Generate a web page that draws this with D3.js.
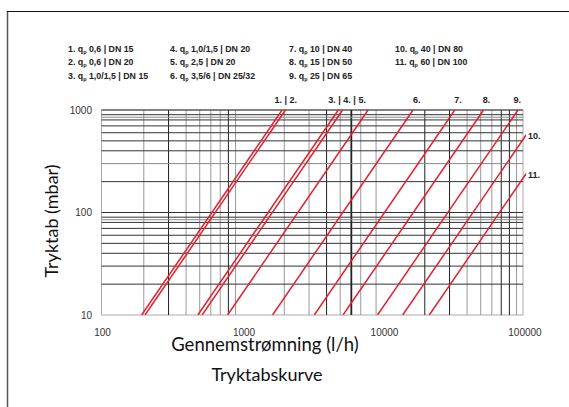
<!DOCTYPE html>
<html><head><meta charset="utf-8">
<script src="https://cdn.jsdelivr.net/npm/d3@7"></script>
<style>html,body{margin:0;padding:0;background:#fff;}svg{display:block;}</style>
</head><body>
<svg id="chart" width="569" height="407"></svg>
<script>
// ---- data ----
const seriesIds = ["1","2","3","4","5","6","7","8","9","10","11"];
// flow (l/h) at which each curve gives 10 mbar; curves follow dp ~ Q^2
const flowAt10mbar = [193, 204, 485, 520, 790, 1650, 3270, 5240, 9220, 13930, 21530];
const legendLabels = [
  ["1.", "0,6 | DN 15"], ["2.", "0,6 | DN 20"], ["3.", "1,0/1,5 | DN 15"],
  ["4.", "1,0/1,5 | DN 20"], ["5.", "2,5 | DN 20"], ["6.", "3,5/6 | DN 25/32"],
  ["7.", "10 | DN 40"], ["8.", "15 | DN 50"], ["9.", "25 | DN 65"],
  ["10.", "40 | DN 80"], ["11.", "60 | DN 100"]
];
const xTicks = [100, 1000, 10000, 100000];
const yTicks = [10, 100, 1000];
const xGrid = [200,300,400,500,600,700,800,900,2000,3000,4000,5000,6000,7000,9000,20000,30000,40000,50000,60000,70000,80000,90000];
const xGridDark = [300, 800, 4000, 6000, 20000, 30000, 70000, 80000];
const yGrid = [20,30,40,50,60,70,80,85,90,100,200,300,400,500,600,700,800,850,900,1000];
const yGridLight = [85, 300, 850];
const topLabels = [["1. | 2.", 2050], ["3. | 4. | 5.", 5600], ["6.", 17500], ["7.", 34500], ["8.", 55000], ["9.", 91000]];
const sideLabels = [["10.", 560], ["11.", 230]];

const svg = d3.select("#chart");
const x = d3.scaleLog().domain([100, 100000]).range([101.5, 523]);
const y = d3.scaleLog().domain([10, 1000]).range([315, 110]);
const ARIAL = "Liberation Sans, Arial, sans-serif";

// frame
svg.append("line").attr("x1",7.5).attr("x2",7.5).attr("y1",11).attr("y2",407).attr("stroke","#555").attr("stroke-width",1.5);
svg.append("line").attr("x1",7).attr("x2",569).attr("y1",11.5).attr("y2",11.5).attr("stroke","#111").attr("stroke-width",1);

// legend
const legCols = [68, 170, 289, 395];
const legRows = [51.5, 65, 78.5];
legendLabels.forEach((d, i) => {
  const col = Math.floor(i / 3), row = i % 3;
  const t = svg.append("text").attr("x", legCols[col]).attr("y", legRows[row])
    .attr("font-family", ARIAL).attr("font-size", 8.8)
    .attr("font-weight", "bold").attr("fill", "#222");
  t.append("tspan").text(d[0] + " q");
  t.append("tspan").attr("font-size", 5.5).attr("dy", 2).text("p");
  t.append("tspan").attr("dy", -2).text(" " + d[1]);
});

const g = svg.append("g");
// plot border
g.append("rect").attr("x", x(100)).attr("y", y(1000)).attr("width", x(100000) - x(100))
  .attr("height", y(10) - y(1000)).attr("fill", "none").attr("stroke", "#aaa").attr("stroke-width", 1);

// vertical grid
g.selectAll(".vg").data(xGrid).join("line")
  .attr("x1", d => x(d)).attr("x2", d => x(d)).attr("y1", y(1000)).attr("y2", y(10))
  .attr("stroke", d => xGridDark.includes(d) ? "#222" : "#999")
  .attr("stroke-width", d => d === 6000 ? 1.8 : 1);

// horizontal grid
g.selectAll(".hg").data(yGrid).join("line")
  .attr("x1", x(100)).attr("x2", x(100000)).attr("y1", d => y(d)).attr("y2", d => y(d))
  .attr("stroke", d => yGridLight.includes(d) ? "#888" : "#333")
  .attr("stroke-width", 1);

// curves
svg.append("clipPath").attr("id", "clip").append("rect")
  .attr("x", x(100)).attr("y", y(1000) - 1).attr("width", x(100000) - x(100) + 3).attr("height", y(10) - y(1000) + 1);
const line = d3.line().x(d => x(d[0])).y(d => y(d[1]));
g.append("g").attr("clip-path", "url(#clip)").selectAll("path").data(flowAt10mbar).join("path")
  .attr("d", q => line([[q, 10], [q * 10, 1000]]))
  .attr("fill", "none").attr("stroke", "#e2202f").attr("stroke-width", 1.5);

// curve labels
svg.selectAll(".tl").data(topLabels).join("text")
  .attr("x", d => x(d[1])).attr("y", 103).attr("text-anchor", "middle")
  .attr("font-family", ARIAL).attr("font-size", 9).attr("font-weight", "bold").attr("fill", "#222")
  .text(d => d[0]);
svg.selectAll(".sl").data(sideLabels).join("text")
  .attr("x", 528).attr("y", d => y(d[1]) + 3)
  .attr("font-family", ARIAL).attr("font-size", 9).attr("font-weight", "bold").attr("fill", "#222")
  .text(d => d[0]);

// axes tick labels
svg.selectAll(".yt").data(yTicks).join("text")
  .attr("x", 92).attr("y", d => y(d) + 3.5).attr("text-anchor", "end")
  .attr("font-family", ARIAL).attr("font-size", 10).attr("fill", "#333")
  .text(d => d);
svg.selectAll(".xt").data(xTicks).join("text")
  .attr("x", d => x(d) + (d === 100 ? 1 : 2)).attr("y", 336).attr("text-anchor", "middle")
  .attr("font-family", ARIAL).attr("font-size", 10).attr("fill", "#333")
  .text(d => d);

// titles
svg.append("text").attr("x", 265).attr("y", 351).attr("text-anchor", "middle")
  .attr("font-family", "Lato, sans-serif").attr("font-size", 18.5).attr("fill", "#111")
  .text("Gennemstrømning (l/h)");
svg.append("text").attr("x", 267).attr("y", 381).attr("text-anchor", "middle")
  .attr("font-family", "Lato, sans-serif").attr("font-size", 18).attr("fill", "#111")
  .text("Tryktabskurve");
svg.append("text").attr("transform", "translate(58,221) rotate(-90)").attr("text-anchor", "middle")
  .attr("font-family", "Lato, sans-serif").attr("font-size", 18).attr("fill", "#111")
  .text("Tryktab (mbar)");
</script>
</body></html>
